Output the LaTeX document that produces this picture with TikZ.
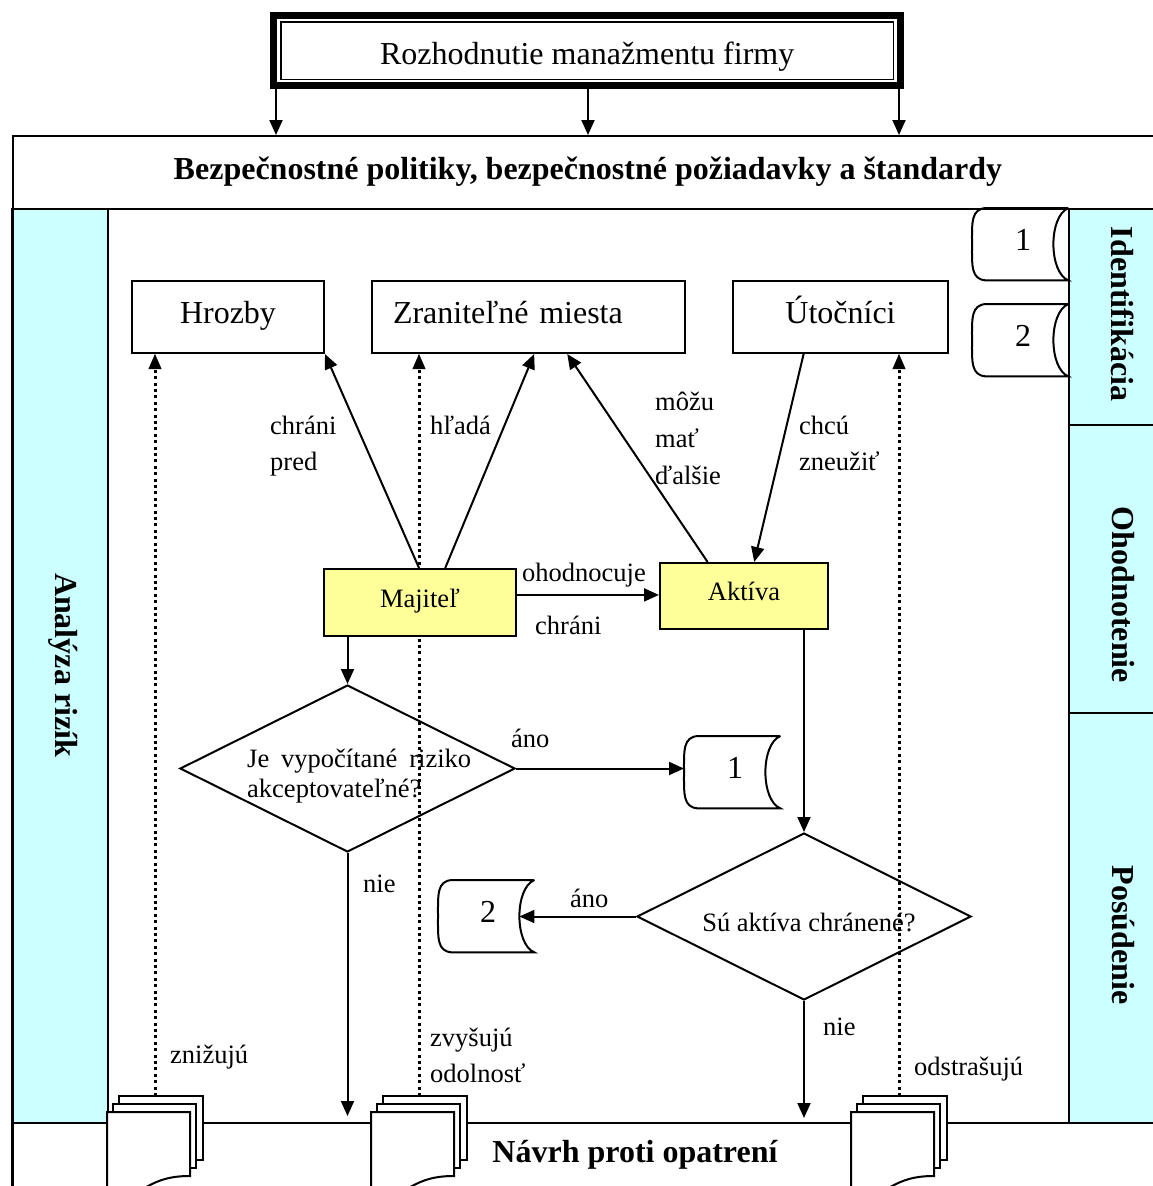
\documentclass[tikz,border=0pt]{standalone}
\usepackage{fontspec}
\setmainfont{Liberation Serif}
\usetikzlibrary{arrows.meta,calc,shapes.geometric}

\definecolor{barcyan}{HTML}{CCFFFF}
\definecolor{ownerfill}{HTML}{FFFF99}

\newcommand\fsbig{\fontsize{32}{38}\selectfont}
\newcommand\fslab{\fontsize{26.5}{32}\selectfont}
\newcommand\fshead{\fontsize{32}{38}\selectfont\bfseries}

\tikzset{
  ln/.style={line width=2pt},
  arr/.style={ln, -{Triangle[length=15pt,width=13pt]}},
  dotarr/.style={line width=3pt, dash pattern=on 3pt off 3.4pt,
    -{Triangle[length=15pt,width=13pt,line width=0.5pt]}},
  entity/.style={draw, ln, fill=white, inner sep=0pt, anchor=north west, font=\fsbig},
  owner/.style={entity, fill=ownerfill, font=\fslab},
  bar/.style={draw, ln, fill=barcyan, inner sep=0pt, anchor=north west},
  bartext/.style={rotate=-90, font=\fshead},
  lbl/.style={anchor=base west, font=\fslab, inner sep=0pt},
  decision/.style={diamond, draw, ln, inner sep=0pt, minimum width=335pt, minimum height=167pt},
}

% data store: convex left side, concave right side
\newcommand\datastore[4]{%
  \node[inner sep=0pt, anchor=north west, minimum width=96pt, text height=42pt,
        text depth=30pt, font=\fsbig] (#1) at (#2,#3) {#4};
  \draw[ln] (#1.north east) -- ($(#1.north west)+(14,0)$)
    .. controls ($(#1.north west)+(-1,1)$) and ($(#1.west)+(0,-22)$) .. (#1.west)
    .. controls ($(#1.west)+(0,22)$) and ($(#1.south west)+(-1,-1)$) .. ($(#1.south west)+(14,0)$)
    -- (#1.south east)
    .. controls ($(#1.south east)+(-20,-8)$) and ($(#1.north east)+(-20,8)$) .. (#1.north east);
}

% stack of three documents with a wavy lower edge on the front sheet
\newcommand\docstack[2]{%
  \fill[white] (#2+12,1096) rectangle (#2+96,1160);
  \draw[ln] (#2+12,1104) |- (#2+96,1096) |- (#2+89,1160);
  \fill[white] (#2+6,1104) rectangle (#2+89,1168);
  \draw[ln] (#2+6,1112) |- (#2+89,1104) |- (#2+83,1168);
  \node[inner sep=0pt, anchor=north west, minimum width=83pt, minimum height=64pt] (#1) at (#2,1112) {};
  \fill[white] (#2,1200) -- (#2,1112) -- (#2+83,1112) -- (#2+83,1176)
    .. controls (#2+60,1176) and (#2+45,1181) .. (#2+20,1200) -- cycle;
  \draw[ln] (#2,1200) -- (#2,1112) -- (#2+83,1112) -- (#2+83,1176)
    .. controls (#2+60,1176) and (#2+45,1181) .. (#2+20,1200);
  \coordinate (#1top) at (#2+48,1096);
}

\begin{document}
\begin{tikzpicture}[x=1pt,y=-1pt]
\useasboundingbox (0,0) rectangle (1153,1186);
\clip (0,0) rectangle (1153,1186);

% management decision box with thick-thin frame
\node[inner sep=0pt, anchor=north west, minimum width=634pt, text height=52pt,
      text depth=25pt, font=\fsbig] (mgmt) at (270,12) {Rozhodnutie manažmentu firmy};
\draw[line width=7pt] ($(mgmt.north west)+(3.5,3.5)$) rectangle ($(mgmt.south east)+(-3.5,-3.5)$);
\draw[line width=1.6pt] ($(mgmt.north west)+(11,10)$) rectangle ($(mgmt.south east)+(-11,-10)$);

% policy header row
\node[draw, ln, inner sep=0pt, anchor=north west, minimum width=1150pt, text height=43pt,
      text depth=30pt, font=\fshead] (policy) at (12,135)
  {Bezpečnostné politiky, bezpečnostné požiadavky a štandardy};

\foreach \dx/\nm in {6/ma,318/mb,629/mc}
  \coordinate (\nm) at ($(mgmt.south west)+(\dx,0)$);
\draw[arr] (ma) -- (ma |- policy.north);
\draw[arr] (mb) -- (mb |- policy.north);
\draw[arr] (mc) -- (mc |- policy.north);

% side bars
\draw[ln] (12,208) -- (12,1200);
\node[bar, minimum width=95pt, minimum height=914pt] (leftbar) at (12,208) {};
\node[bartext] (analyza) at (63,665) {Analýza rizík};

\node[bar, minimum width=92pt, minimum height=216pt] (identbar) at (1068,208) {};
\node[bar, minimum width=92pt, minimum height=288pt] (ohodbar) at (1068,424) {};
\node[bar, minimum width=92pt, minimum height=410pt] (posbar) at (1068,712) {};
\node[bartext] (ident) at (1123,314) {Identifikácia};
\node[bartext] (ohod) at (1123,595) {Ohodnotenie};
\node[bartext] (posud) at (1123,935) {Posúdenie};

% bottom row
\node[draw, ln, inner sep=0pt, anchor=north west, minimum width=1150pt, minimum height=90pt] (bottomrow) at (12,1122) {};
\node[anchor=base, font=\fshead] (navrh) at (635,1162) {Návrh proti opatrení};

% entities
\node[entity, minimum width=192pt, text height=42pt, text depth=30pt] (hrozby) at (131,280) {Hrozby};
\node[entity, minimum width=313pt, text width=271pt, align=left, text height=42pt, text depth=30pt] (zran) at (371,280) {Zraniteľné miesta};
\node[entity, minimum width=215pt, text height=42pt, text depth=30pt] (utoc) at (732,280) {Útočníci};

% countermeasure stacks and their dotted influence arrows
\docstack{st1}{107}
\docstack{st2}{371}
\docstack{st3}{851}
\draw[dotarr] (st1top) -- (st1top |- hrozby.south);
\draw[dotarr] (st2top) -- (st2top |- zran.south);
\draw[dotarr] (st3top) -- (st3top |- utoc.south);

% owner and assets
\node[owner, minimum width=192pt, text height=38pt, text depth=29pt] (maj) at (323,568) {Majiteľ};
\node[owner, minimum width=168pt, text height=37pt, text depth=29pt] (aktiva) at (659,562) {Aktíva};

% decisions
\node[decision] (d1) at (347.5,768.5) {};
\node[lbl] (d1a) at (247,767) {\makebox[224pt][s]{Je vypočítané riziko}};
\node[lbl] (d1b) at (247,797) {akceptovateľné?};
\node[decision, minimum width=334pt] (d2) at (804,916.5) {};
\node[anchor=base, font=\fslab, inner sep=0pt] (d2t) at (809,931) {Sú aktíva chránené?};

% data stores
\datastore{s1top}{972}{208}{\hspace{6pt}1}
\datastore{s2top}{972}{304}{\hspace{6pt}2}
\datastore{s1mid}{684}{736}{\hspace{6pt}1}
\datastore{s2mid}{438}{880}{\hspace{4pt}2}

% relations
\draw[arr] ($(maj.north west)!0.495!(maj.north east)$) -- (hrozby.south east);
\draw[arr] ($(maj.north west)!0.63!(maj.north east)$) -- ($(zran.south west)!0.518!(zran.south east)$);
\draw[arr] ($(aktiva.north west)!0.286!(aktiva.north east)$) -- ($(zran.south west)!0.623!(zran.south east)$);
\draw[arr] ($(utoc.south west)!0.33!(utoc.south east)$) -- ($(aktiva.north west)!0.56!(aktiva.north east)$);
\coordinate (mo) at ($(maj.north east)!0.39!(maj.south east)$);
\draw[arr] (mo) -- (mo -| aktiva.west);
\draw[arr] (maj.south -| d1.north) -- (d1.north);
\draw[arr] (d1.east) -- (d1.east -| s1mid.west);
\draw[arr] (d2.north |- aktiva.south) -- (d2.north);
\draw[arr] (d2.west) -- ($(d2.west -| s2mid.east)+(-15,0)$);
\coordinate (n1) at (d1.south |- 0,1116);
\coordinate (n2) at (d2.south |- 0,1118);
\draw[arr] (d1.south) -- (n1);
\draw[arr] (d2.south) -- (n2);

% relation labels
\node[lbl] (l1) at (270,434) {chráni};
\node[lbl] (l2) at (270,470) {pred};
\node[lbl] (l3) at (430,434) {hľadá};
\node[lbl] (l4) at (655,410) {môžu};
\node[lbl] (l5) at (655,447) {mať};
\node[lbl] (l6) at (655,484) {ďalšie};
\node[lbl] (l7) at (799,434) {chcú};
\node[lbl] (l8) at (799,470) {zneužiť};
\node[lbl] (l9) at (522,581) {ohodnocuje};
\node[lbl] (l10) at (535,634) {chráni};
\node[lbl] (l11) at (511,747) {áno};
\node[lbl] (l12) at (363,892) {nie};
\node[lbl] (l13) at (570,907) {áno};
\node[lbl] (l14) at (823,1035) {nie};
\node[lbl] (l15) at (170,1063) {znižujú};
\node[lbl] (l16) at (430,1046) {zvyšujú};
\node[lbl] (l17) at (430,1082) {odolnosť};
\node[lbl] (l18) at (914,1075) {odstrašujú};
\end{tikzpicture}
\end{document}
